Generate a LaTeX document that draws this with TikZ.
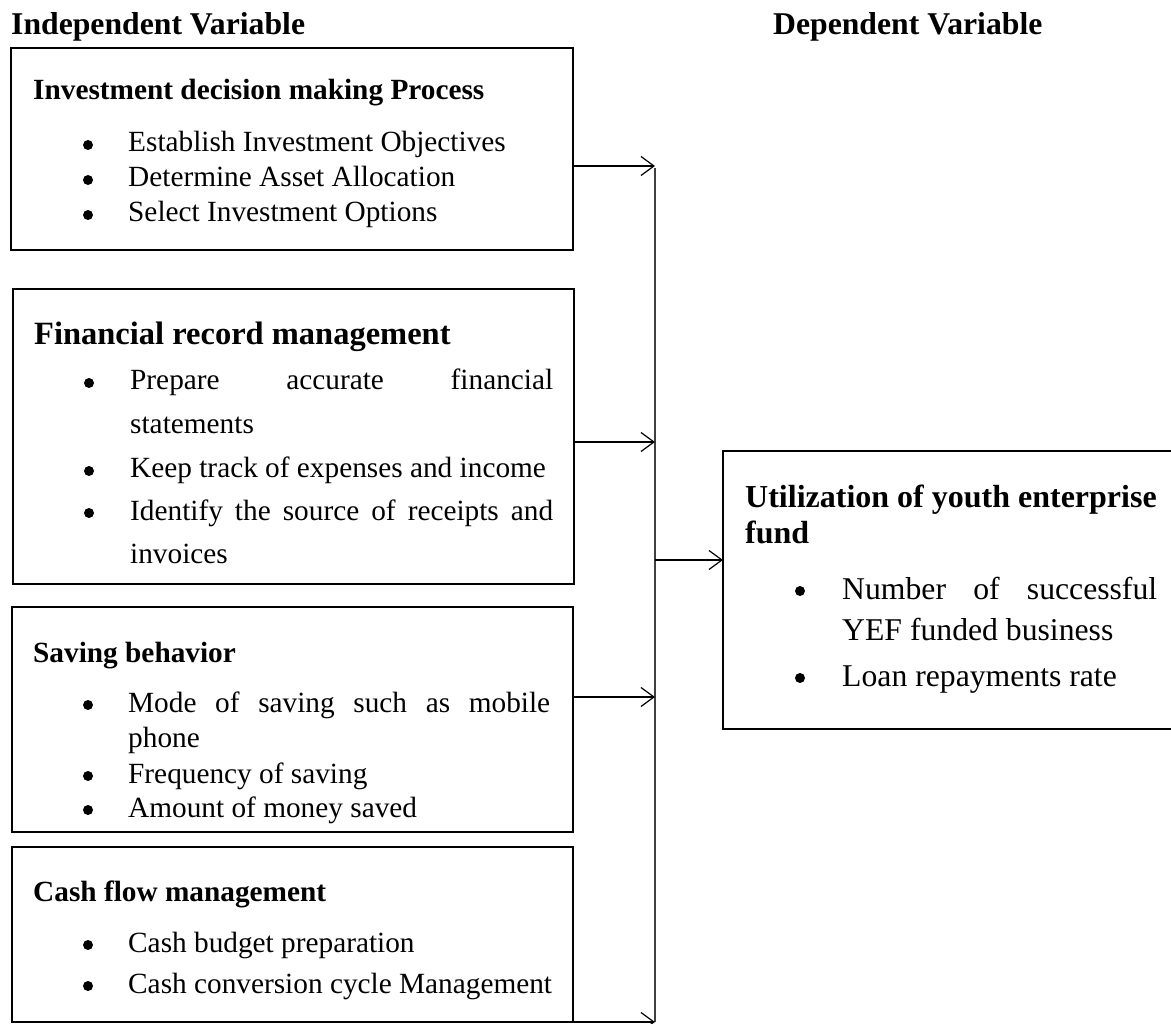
\documentclass[tikz,border=0pt]{standalone}
\usepackage{fontspec}
\setmainfont{Liberation Serif}
\usetikzlibrary{arrows.meta}

\begin{document}
\begin{tikzpicture}[x=1pt, y=-1pt, line join=miter,
  varbox/.style={draw, line width=2pt, inner sep=0pt, outer sep=0pt, anchor=north west},
  hdr/.style={anchor=base west, inner sep=0pt, font=\fontsize{31.7}{38}\selectfont\bfseries},
  ttl/.style={anchor=base west, inner sep=0pt, font=\fontsize{29.3}{35}\selectfont\bfseries},
  txt/.style={anchor=base west, inner sep=0pt, font=\fontsize{29.3}{35}\selectfont},
  bul/.style={circle, fill, inner sep=0pt, minimum size=10pt},
  arr/.style={line width=1.2pt, -{Straight Barb[length=13pt,width=19pt,line width=1.2pt]}},
  trunk/.style={line width=1.3pt, black!75}]
\useasboundingbox (0,0) rectangle (1171,1024);
\clip (0,0) rectangle (1171,1024);

% headings
\node[hdr] (indep) at (11,35) {Independent Variable};
\node[hdr] (dep) at (773,35) {Dependent Variable};

% independent variable boxes
\node[varbox, minimum width=562pt, minimum height=202pt] (idm) at (11,48) {};
\node[varbox, minimum width=561pt, minimum height=295pt] (frm) at (13,289) {};
\node[varbox, minimum width=561pt, minimum height=225pt] (sav) at (12,607) {};
\node[varbox, minimum width=561pt, minimum height=175pt] (cfm) at (12,847) {};

% dependent variable box
\node[varbox, minimum width=520pt, minimum height=278pt] (yef) at (723,451) {};

% box texts
\node[ttl] (idm-t) at (33,100) {Investment decision making Process};
\foreach \y/\t in {152/Establish Investment Objectives,187/Determine Asset Allocation,222/Select Investment Options}{
  \node[bul] (idm-b\y) at (88,\y-7) {};
  \node[txt] (idm-i\y) at (128,\y) {\t};
}

\node[ttl, font=\fontsize{32.5}{38}\selectfont\bfseries] (frm-t) at (34,345) {Financial record management};
\foreach \y in {390,478,520}
  \node[bul] (frm-b\y) at (89,\y-7) {};
\node[txt] (frm-i1) at (130,390) {\makebox[423pt][s]{Prepare accurate financial}};
\node[txt] (frm-i1b) at (130,434) {statements};
\node[txt] (frm-i2) at (130,478) {Keep track of expenses and income};
\node[txt] (frm-i3) at (130,520) {\makebox[423pt][s]{Identify the source of receipts and}};
\node[txt] (frm-i3b) at (130,563) {invoices};

\node[ttl] (sav-t) at (33,662) {Saving behavior};
\foreach \y in {712,783,817}
  \node[bul] (sav-b\y) at (88,\y-7) {};
\node[txt] (sav-i1) at (128,712) {\makebox[422pt][s]{Mode of saving such as mobile}};
\node[txt] (sav-i1b) at (128,747) {phone};
\node[txt] (sav-i2) at (128,783) {Frequency of saving};
\node[txt] (sav-i3) at (128,817) {Amount of money saved};

\node[ttl] (cfm-t) at (33,901) {Cash flow management};
\foreach \y/\t in {952/Cash budget preparation,993/Cash conversion cycle Management}{
  \node[bul] (cfm-b\y) at (88,\y-7) {};
  \node[txt] (cfm-i\y) at (128,\y) {\t};
}

\node[ttl, font=\fontsize{32}{38}\selectfont\bfseries] (yef-t) at (745,507) {Utilization of youth enterprise};
\node[ttl, font=\fontsize{32}{38}\selectfont\bfseries] (yef-tb) at (745,543) {fund};
\foreach \y in {599,686}
  \node[bul] (yef-b\y) at (800,\y-8) {};
\node[txt, font=\fontsize{31.7}{38}\selectfont] (yef-i1) at (842,599) {\makebox[315pt][s]{Number of successful}};
\node[txt, font=\fontsize{31.7}{38}\selectfont] (yef-i1b) at (842,640) {YEF funded business};
\node[txt, font=\fontsize{31.7}{38}\selectfont] (yef-i2) at (842,686) {Loan repayments rate};

% connectors
\coordinate (jtop) at (655,168);
\coordinate (jbot) at (655,1022);
\coordinate (j1) at (655,166);
\coordinate (j2) at (655,442);
\coordinate (j3) at (655,697);
\coordinate (jo) at (655,560);
\draw[trunk] (jtop) -- (jbot);
\draw[arr] (idm.east |- j1) -- (j1);
\draw[arr] (frm.east |- j2) -- (j2);
\draw[arr] (sav.east |- j3) -- (j3);
\draw[arr] (cfm.south east) -- (jbot);
\draw[arr] (jo) -- (yef.west |- jo);
\end{tikzpicture}
\end{document}
